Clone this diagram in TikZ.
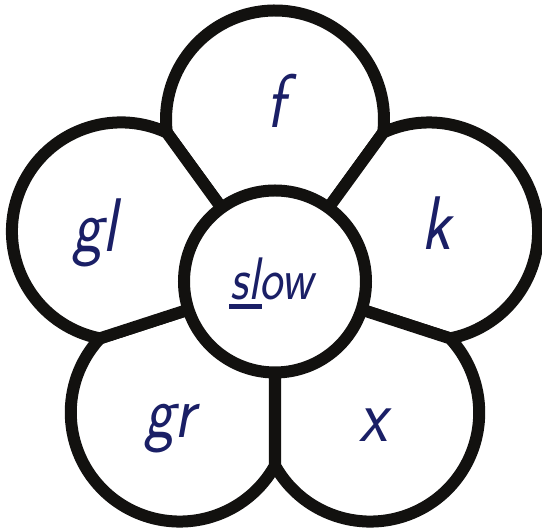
\documentclass[tikz,border=0pt]{standalone}
\usepackage{graphicx}
\usetikzlibrary{calc}
\definecolor{ink}{RGB}{18,17,15}
\definecolor{navy}{RGB}{26,31,102}
\tikzset{
  petal/.style={draw=ink, fill=white, line width=12pt, line join=round},
  heart/.style={circle, draw=ink, fill=white, line width=12pt, minimum size=182pt, inner sep=0pt},
  letter/.style={text=navy, font=\fontsize{76}{80}\selectfont\sffamily\itshape, anchor=base, inner sep=0pt},
  word/.style={text=navy, font=\fontsize{60}{64}\selectfont\sffamily\itshape, anchor=base, inner sep=0pt},
  underbar/.style={fill=navy, draw=none}
}
\newcommand\flowerpetal[1]{%
  \draw[petal] (C) -- ($(C)+(#1-36:184.11pt)$)
    arc[start angle=#1-96.88, end angle=#1+96.88, radius=109pt] -- cycle;}
\begin{document}
\begin{tikzpicture}
\useasboundingbox (0pt,0pt) rectangle (542pt,529pt);
\coordinate (C) at (275pt,247.5pt);
\flowerpetal{90}
\flowerpetal{18}
\flowerpetal{-54}
\flowerpetal{-126}
\flowerpetal{162}
\node[heart] (centre) at (C) {};
\node[letter] (tf) at (276pt,401pt) {\scalebox{0.85}[1]{f}};
\node[letter] (tk) at (436pt,279pt) {\scalebox{0.85}[1]{k}};
\node[letter] (tgl) at (95pt,277pt) {\scalebox{0.85}[1]{gl}};
\node[letter] (tgr) at (170pt,91pt) {\scalebox{0.85}[1]{gr}};
\node[letter] (tx) at (373pt,87pt) {\scalebox{0.85}[1]{x}};
\node[word] (tslow) at (272pt,229pt) {\scalebox{0.82}[1]{slow}};
\fill[underbar] (229pt,220pt) rectangle (262pt,225pt);
\end{tikzpicture}
\end{document}
